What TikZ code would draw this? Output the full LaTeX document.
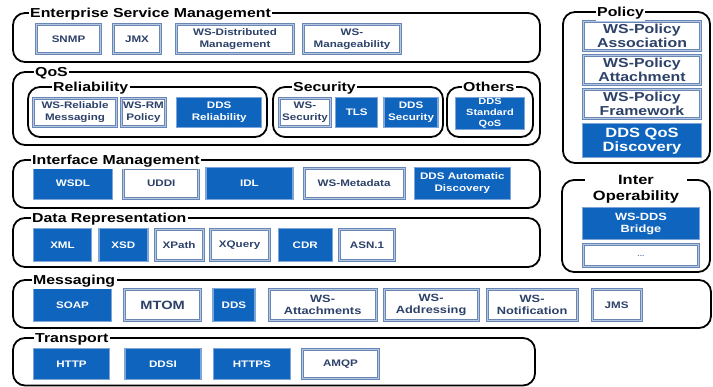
\documentclass[tikz,border=0pt]{standalone}
\usepackage{fontspec}
\setmainfont{Liberation Sans}[FakeStretch=1.22]
\usetikzlibrary{positioning}
\definecolor{ddsblue}{RGB}{15,100,190}
\definecolor{boxedge}{RGB}{105,135,180}
\definecolor{boxinner}{RGB}{180,198,225}
\definecolor{lightedge}{RGB}{125,165,215}
\definecolor{labelnavy}{RGB}{45,65,105}
\newcommand{\fsz}[2]{\fontsize{#1}{#2}\selectfont\bfseries}
\tikzstyle{wbox} = [draw=boxedge, double=boxinner, double distance=0.8pt, line width=1pt, fill=white, text=labelnavy, align=center, inner sep=0pt, font=\fsz{9.5}{12}]
\tikzstyle{bbox} = [draw=lightedge, line width=1.4pt, fill=ddsblue, text=white, align=center, inner sep=0pt, font=\fsz{9.5}{12}]
\tikzstyle{group} = [draw, line width=1.8pt, rounded corners=12pt]
\tikzstyle{head} = [fill=white, inner sep=1.5pt, anchor=base west, font=\fsz{13}{15}]

\begin{document}
\begin{tikzpicture}[x=1pt, y=-1pt]
    \fill[white] (0,0) rectangle (713,387);
    \useasboundingbox (0,0) rectangle (713,387);
    % Frames
    \draw [group] (13,13) rectangle (540,62);
    \draw [group] (13,72) rectangle (540,145);
    \draw [group] (28,87) rectangle (267,137);
    \draw [group] (273,87) rectangle (443,137);
    \draw [group] (447,87) rectangle (533,137);
    \draw [group] (563,12) rectangle (710,163);
    \draw [group] (13,160) rectangle (540,208);
    \draw [group] (13,218) rectangle (540,267);
    \draw [group] (562,180) rectangle (710,272);
    \draw [group] (13,280) rectangle (711,328);
    \draw [group] (13,338) rectangle (535,385.5);

    % Enterprise Service Management
    \node [wbox, minimum width=64pt, minimum height=29pt] (snmp) at (68.5,39) {SNMP};
    \node [wbox, minimum width=47pt, minimum height=29pt, right=12pt of snmp] (jmx) {JMX};
    \node [wbox, minimum width=117pt, minimum height=29pt, right=15pt of jmx] (wsdm) {WS-Distributed\\Management};
    \node [wbox, minimum width=97pt, minimum height=29pt, right=9pt of wsdm] (wsman) {WS-\\Manageability};

    % QoS
    \node [wbox, minimum width=83pt, minimum height=28pt] (wsrel) at (75,112.5) {WS-Reliable\\Messaging};
    \node [wbox, minimum width=44pt, minimum height=28pt, right=4pt of wsrel] (wsrmp) {WS-RM\\Policy};
    \node [bbox, minimum width=85pt, minimum height=30pt, right=10pt of wsrmp] (ddsrel) {DDS\\Reliability};
    \node [wbox, minimum width=51pt, minimum height=28pt] (wssec) at (305,112.5) {WS-\\Security};
    \node [bbox, minimum width=42pt, minimum height=30pt, right=4pt of wssec] (tls) {TLS};
    \node [bbox, minimum width=54pt, minimum height=30pt, right=5pt of tls] (ddssec) {DDS\\Security};
    \node [bbox, minimum width=69pt, minimum height=32pt, font=\fsz{9}{11}] (ddsstd) at (490,113.5) {DDS\\Standard\\QoS};

    % Policy
    \node [wbox, minimum width=117pt, minimum height=29pt, font=\fsz{13}{14}] (polassoc) at (642,36) {WS-Policy\\Association};
    \node [wbox, minimum width=117pt, minimum height=29pt, font=\fsz{13}{14}, below=4pt of polassoc] (polattach) {WS-Policy\\Attachment};
    \node [wbox, minimum width=117pt, minimum height=29pt, font=\fsz{13}{14}, below=4pt of polattach] (polframe) {WS-Policy\\Framework};
    \node [bbox, minimum width=119pt, minimum height=34pt, font=\fsz{13.5}{14}, below=4pt of polframe] (qosdisc) {DDS QoS\\Discovery};

    % Interface Management
    \node [bbox, minimum width=79pt, minimum height=32pt] (wsdl) at (73,183.5) {WSDL};
    \node [wbox, minimum width=75pt, minimum height=30pt, right=10pt of wsdl] (uddi) {UDDI};
    \node [bbox, minimum width=87pt, minimum height=32pt, right=6pt of uddi] (idl) {IDL};
    \node [wbox, minimum width=100pt, minimum height=30pt, right=10pt of idl] (wsmeta) {WS-Metadata};
    \node [bbox, minimum width=96pt, minimum height=32pt, right=9pt of wsmeta] (autodisc) {DDS Automatic\\Discovery};

    % Data Representation
    \node [bbox, minimum width=58pt, minimum height=33pt] (xml) at (62.5,245) {XML};
    \node [bbox, minimum width=49pt, minimum height=33pt, right=6pt of xml] (xsd) {XSD};
    \node [wbox, minimum width=48pt, minimum height=31pt, right=6pt of xsd] (xpath) {XPath};
    \node [wbox, minimum width=59pt, minimum height=31pt, right=6pt of xpath] (xquery) {XQuery};
    \node [bbox, minimum width=54pt, minimum height=33pt, right=8pt of xquery] (cdr) {CDR};
    \node [wbox, minimum width=55pt, minimum height=31pt, right=6pt of cdr] (asn) {ASN.1};

    % Inter Operability
    \node [bbox, minimum width=117pt, minimum height=32pt, font=\fsz{10.5}{12}] (wsdds) at (641,223.5) {WS-DDS\\Bridge};
    \node [wbox, minimum width=115pt, minimum height=22pt, font=\fsz{7}{8}, text=boxedge, below=4pt of wsdds] (more) {...};

    % Messaging
    \node [bbox, minimum width=78pt, minimum height=33pt] (soap) at (72.5,305) {SOAP};
    \node [wbox, minimum width=76pt, minimum height=31pt, font=\fsz{12}{13}, right=12pt of soap] (mtom) {MTOM};
    \node [bbox, minimum width=42pt, minimum height=33pt, right=11pt of mtom] (dds) {DDS};
    \node [wbox, minimum width=107pt, minimum height=31pt, font=\fsz{10.5}{12}, right=13pt of dds] (wsatt) {WS-\\Attachments};
    \node [wbox, minimum width=94pt, minimum height=31pt, font=\fsz{10.5}{12}, right=7pt of wsatt] (wsaddr) {WS-\\Addressing};
    \node [wbox, minimum width=90pt, minimum height=31pt, font=\fsz{10.5}{12}, right=8pt of wsaddr] (wsnotif) {WS-\\Notification};
    \node [wbox, minimum width=49pt, minimum height=31pt, right=14pt of wsnotif] (jms) {JMS};

    % Transport
    \node [bbox, minimum width=76pt, minimum height=31pt] (http) at (71.5,364) {HTTP};
    \node [bbox, minimum width=76pt, minimum height=31pt, right=14pt of http] (ddsi) {DDSI};
    \node [bbox, minimum width=77pt, minimum height=31pt, right=11pt of ddsi] (https) {HTTPS};
    \node [wbox, minimum width=76pt, minimum height=29pt, right=11pt of https] (amqp) {AMQP};

    % Headings
    \node [head] (esmhead) at (28.5,17.5) {Enterprise Service Management};
    \node [head] (qoshead) at (33.5,76.5) {QoS};
    \node [head] (relhead) at (51.5,91.5) {Reliability};
    \node [head] (sechead) at (291.5,91.5) {Security};
    \node [head] (othhead) at (461.5,91.5) {Others};
    \node [head] (polhead) at (595.5,16.5) {Policy};
    \node [head] (ifhead) at (30.5,164.5) {Interface Management};
    \node [head] (datahead) at (30.5,222.5) {Data Representation};
    \node [head] (msghead) at (31.5,284.5) {Messaging};
    \node [head] (trhead) at (33.5,342.5) {Transport};
    \node [head, anchor=north, align=center, inner xsep=8pt, inner ysep=1pt, font=\fsz{13.5}{16}] (iophead) at (636,174.5) {Inter\\Operability};
\end{tikzpicture}
\end{document}
